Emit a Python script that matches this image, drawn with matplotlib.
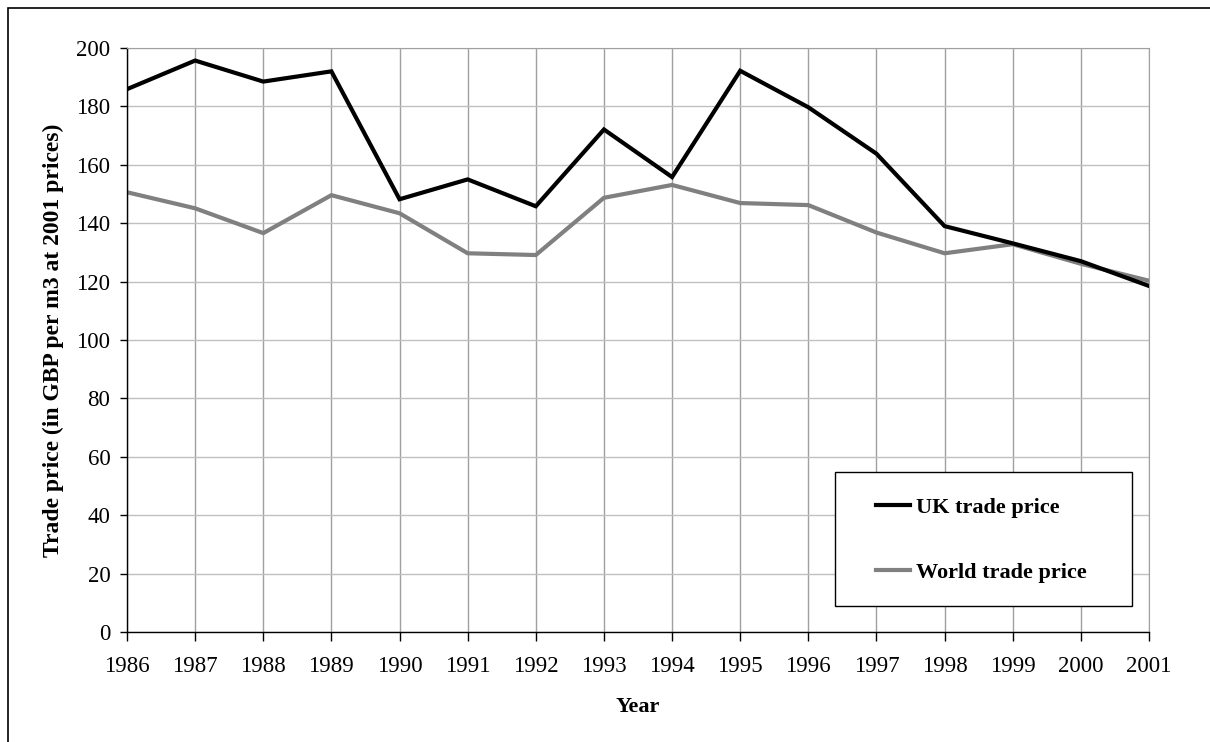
import matplotlib

matplotlib.use("Agg")
import matplotlib.pyplot as plt
from matplotlib.patches import Rectangle

YEARS = list(range(1986, 2002))
UK_PRICE = [185.9, 195.7, 188.5, 192.0, 148.2, 155.0, 145.8, 172.1,
            155.8, 192.2, 179.7, 163.8, 139.0, 133.1, 127.0, 118.5]
WORLD_PRICE = [150.6, 145.1, 136.6, 149.6, 143.4, 129.7, 129.1, 148.7,
               153.1, 146.9, 146.2, 136.8, 129.7, 132.8, 126.1, 120.3]
Y_TICKS = list(range(0, 201, 20))

plt.rcParams["font.family"] = ["Liberation Serif", "DejaVu Serif"]

fig = plt.figure(figsize=(12.1, 7.42), dpi=100)
fig.patch.set_facecolor("white")
ax = fig.add_axes([127 / 1210, 1 - 632 / 742, 1022 / 1210, 584 / 742])

# outer frame round the whole chart
fig.patches.append(Rectangle((8 / 1210, -0.05), 1.1, (742 - 8) / 742 + 0.05,
                             transform=fig.transFigure, fill=False,
                             edgecolor="black", linewidth=1.2))

ax.plot(YEARS, UK_PRICE, color="black", linewidth=3.0, label="UK trade price",
        solid_joinstyle="miter", zorder=3)
ax.plot(YEARS, WORLD_PRICE, color="#808080", linewidth=3.0,
        label="World trade price", solid_joinstyle="miter", zorder=2)

ax.set_xlim(YEARS[0], YEARS[-1])
ax.set_ylim(0, 200)
ax.set_xticks(YEARS)
ax.set_yticks(Y_TICKS)
ax.xaxis.grid(True, color="#a0a0a0", linewidth=1.0)
ax.yaxis.grid(True, color="#c0c0c0", linewidth=1.0)
ax.set_axisbelow(True)
for side in ("top", "right"):
    ax.spines[side].set_color("#a0a0a0")
for side in ("left", "bottom"):
    ax.spines[side].set_color("black")
    ax.spines[side].set_linewidth(1.0)
ax.tick_params(axis="both", direction="out", width=1.0,
               labelsize=16.5, colors="black")
ax.tick_params(axis="x", length=6.5, pad=11)
ax.tick_params(axis="y", length=5, pad=7)

ax.set_xlabel("Year", fontsize=16, fontweight="bold", labelpad=14)
ax.set_ylabel("Trade price (in GBP per m3 at 2001 prices)", fontsize=17,
              fontweight="bold", labelpad=9)

# legend box
box_x0 = (835 - 127) / 1022
box_y0 = (632 - 606) / 584
ax.add_patch(Rectangle((box_x0, box_y0), (1132 - 835) / 1022, (606 - 472) / 584,
                       transform=ax.transAxes, facecolor="white",
                       edgecolor="black", linewidth=1.0, zorder=5))
legend = ax.legend(loc="center left",
                   bbox_to_anchor=((876 - 127) / 1022, (632 - 540) / 584),
                   frameon=False, handlelength=1.53, borderaxespad=0,
                   handletextpad=0.27, labelspacing=2.0, borderpad=0,
                   prop={"weight": "bold", "size": 16})
legend.set_zorder(6)

fig.savefig("out.png", dpi=100, facecolor="white")
plt.close(fig)
